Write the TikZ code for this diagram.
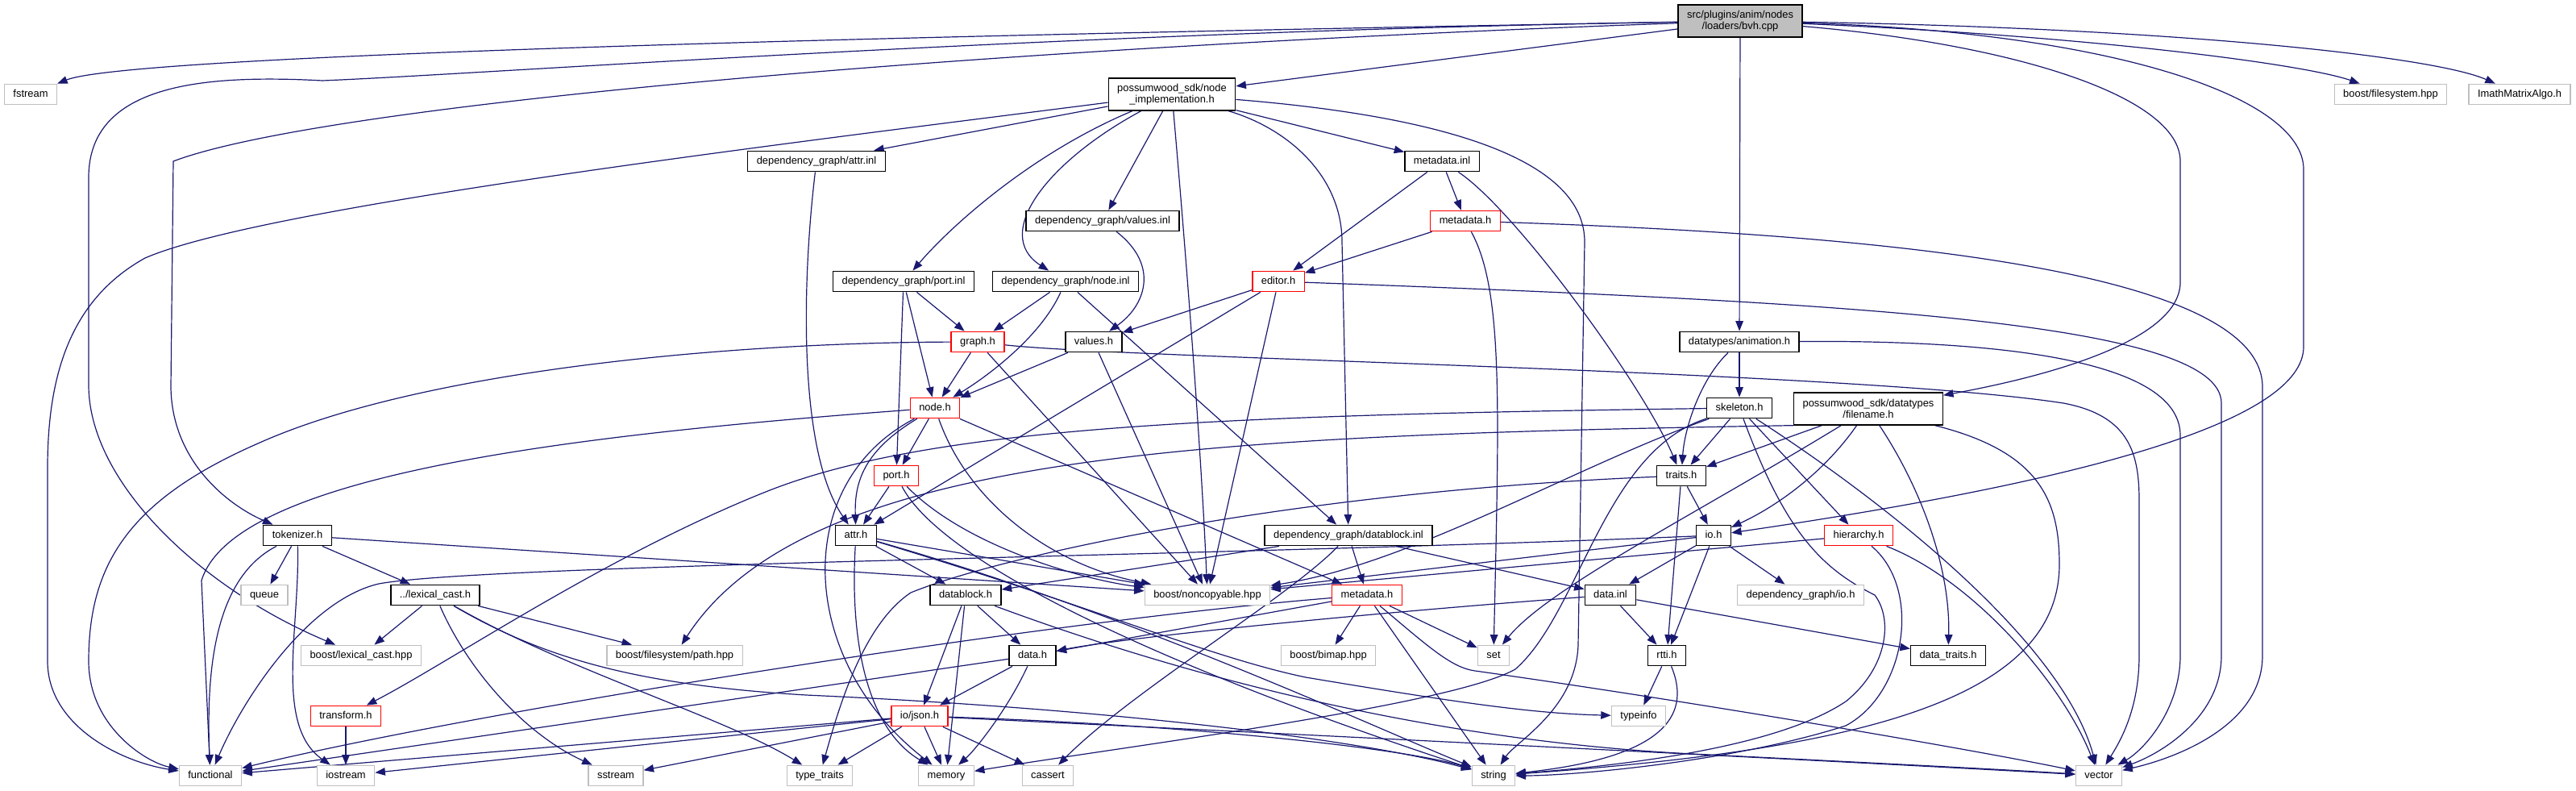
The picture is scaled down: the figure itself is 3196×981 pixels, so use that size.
\documentclass[tikz,border=0pt]{standalone}
\usepackage{fontspec}
\setmainfont{Liberation Sans}
\usetikzlibrary{arrows.meta,backgrounds}
\definecolor{edgeblue}{HTML}{191970}
\definecolor{lightframe}{HTML}{BFBFBF}
\definecolor{rootfill}{HTML}{BFBFBF}
\newcommand\dotfont{\fontsize{12.9}{14.5}\selectfont}

\begin{document}
\begin{tikzpicture}[
    x=1pt, y=-1pt,
    box/.style={
        rectangle,
        draw=black,
        line width=1.3pt,
        fill=white,
        inner xsep=11pt,
        inner ysep=0pt,
        minimum height=25.5pt,
        text height=9.5pt,
        text depth=2.8pt,
        font=\dotfont,
        align=center
    },
    sysbox/.style={box, draw=lightframe},
    redbox/.style={box, draw=red},
    twoline/.style={text height={}, text depth={}, minimum height=40pt},
    edge/.style={draw=edgeblue, line width=1.2pt, -{Triangle[length=12.5pt,width=9.5pt]}}
]
\useasboundingbox (0,0) rectangle (3196,981);

\node[box, twoline, fill=rootfill] (root) at (2159,26) {src/plugins/anim/nodes\\/loaders/bvh.cpp};
\node[sysbox] (fstream) at (38,117) {fstream};
\node[box, twoline] (nodeimpl) at (1454,117) {possumwood\_sdk/node\\\_implementation.h};
\node[sysbox] (boostfs) at (2966,117) {boost/filesystem.hpp};
\node[sysbox] (imath) at (3126,117) {ImathMatrixAlgo.h};
\node[box] (attrinl) at (1013,200) {dependency\_graph/attr.inl};
\node[box] (metainl) at (1789,200) {metadata.inl};
\node[box] (valuesinl) at (1368,274) {dependency\_graph/values.inl};
\node[redbox] (metah) at (1818,274) {metadata.h};
\node[box] (portinl) at (1121,349) {dependency\_graph/port.inl};
\node[box] (nodeinl) at (1322,349) {dependency\_graph/node.inl};
\node[redbox] (editor) at (1586,349) {editor.h};
\node[redbox] (graph) at (1213,424) {graph.h};
\node[box] (values) at (1357,424) {values.h};
\node[box] (anim) at (2158,424) {datatypes/animation.h};
\node[redbox] (nodeh) at (1160,506) {node.h};
\node[box] (skeleton) at (2158,506) {skeleton.h};
\node[box, twoline] (filename) at (2318,507) {possumwood\_sdk/datatypes\\/filename.h};
\node[redbox] (porth) at (1112,590) {port.h};
\node[box] (traits) at (2086,590) {traits.h};
\node[box] (tokenizer) at (369,664) {tokenizer.h};
\node[box] (attrh) at (1062,664) {attr.h};
\node[box] (dbinl) at (1673,664) {dependency\_graph/datablock.inl};
\node[box] (ioh) at (2126,664) {io.h};
\node[redbox] (hier) at (2306,664) {hierarchy.h};
\node[sysbox] (queue) at (328,738) {queue};
\node[box] (lexcast) at (540,738) {../lexical\_cast.h};
\node[box] (datablock) at (1198,738) {datablock.h};
\node[sysbox] (noncopy) at (1498,738) {boost/noncopyable.hpp};
\node[redbox] (metadb) at (1696,738) {metadata.h};
\node[box] (datainl) at (1998,738) {data.inl};
\node[sysbox] (depio) at (2234,738) {dependency\_graph/io.h};
\node[sysbox] (boostlex) at (448,813) {boost/lexical\_cast.hpp};
\node[sysbox] (fspath) at (837,813) {boost/filesystem/path.hpp};
\node[box] (datah) at (1281,813) {data.h};
\node[sysbox] (bimap) at (1648,813) {boost/bimap.hpp};
\node[sysbox] (stdset) at (1853,813) {set};
\node[box] (rtti) at (2068,813) {rtti.h};
\node[box] (datatraits) at (2417,813) {data\_traits.h};
\node[redbox] (transform) at (429,888) {transform.h};
\node[redbox] (json) at (1141,888) {io/json.h};
\node[sysbox] (typeinfo) at (2033,888) {typeinfo};
\node[sysbox] (functional) at (261,962) {functional};
\node[sysbox] (iostream) at (429,962) {iostream};
\node[sysbox] (sstream) at (764,962) {sstream};
\node[sysbox] (typetraits) at (1017,962) {type\_traits};
\node[sysbox] (memory) at (1174,962) {memory};
\node[sysbox] (cassert) at (1300,962) {cassert};
\node[sysbox] (string) at (1853,962) {string};
\node[sysbox] (vector) at (2604,962) {vector};

\begin{pgfonlayer}{background}
% bvh.cpp
\draw[edge] (root) .. controls (900,48) and (150,72) .. (fstream);
\draw[edge] (root) .. controls (1300,40) and (600,92) .. (400,100) .. controls (250,92) and (110,105) .. (110,220) -- (110,480) .. controls (112,600) and (250,730) .. (boostlex);
\draw[edge] (root) .. controls (1200,60) and (400,130) .. (215,200) -- (212,480) .. controls (213,570) and (280,625) .. (tokenizer);
\draw[edge] (root) -- (nodeimpl);
\draw[edge] (root) -- (anim);
\draw[edge] (root) .. controls (2500,55) and (2705,120) .. (2705,200) -- (2705,350) .. controls (2705,420) and (2550,465) .. (filename);
\draw[edge] (root) .. controls (2620,40) and (2858,120) .. (2858,210) -- (2858,430) .. controls (2858,520) and (2600,595) .. (ioh);
\draw[edge] (root) .. controls (2600,45) and (2860,80) .. (boostfs);
\draw[edge] (root) .. controls (2700,35) and (3020,70) .. (imath);
% node_implementation.h
\draw[edge] (nodeimpl) .. controls (1000,175) and (330,255) .. (180,320) .. controls (90,370) and (59,460) .. (59,580) -- (59,820) .. controls (59,900) and (150,945) .. (functional);
\draw[edge] (nodeimpl) -- (attrinl);
\draw[edge] (nodeimpl) .. controls (1280,190) and (1180,280) .. (portinl);
\draw[edge] (nodeimpl) .. controls (1300,200) and (1230,290) .. (nodeinl);
\draw[edge] (nodeimpl) -- (valuesinl);
\draw[edge] (nodeimpl) .. controls (1470,300) and (1490,550) .. (noncopy);
\draw[edge] (nodeimpl) .. controls (1600,160) and (1665,220) .. (1665,300) -- (dbinl);
\draw[edge] (nodeimpl) .. controls (1800,145) and (1966,200) .. (1966,300) -- (1958,800) .. controls (1955,880) and (1880,920) .. (string);
\draw[edge] (nodeimpl) -- (metainl);
% inl files
\draw[edge] (attrinl) .. controls (995,350) and (990,560) .. (attrh);
\draw[edge] (metainl) -- (editor);
\draw[edge] (metainl) -- (metah);
\draw[edge] (metainl) .. controls (1880,260) and (2040,480) .. (traits);
\draw[edge] (valuesinl) .. controls (1440,330) and (1420,380) .. (values);
\draw[edge] (portinl) -- (graph);
\draw[edge] (portinl) -- (nodeh);
\draw[edge] (portinl) -- (porth);
\draw[edge] (nodeinl) -- (graph);
\draw[edge] (nodeinl) .. controls (1290,420) and (1220,470) .. (nodeh);
\draw[edge] (nodeinl) -- (dbinl);
% metadata.h, editor.h
\draw[edge] (metah) -- (editor);
\draw[edge] (metah) .. controls (1865,360) and (1860,500) .. (stdset);
\draw[edge] (metah) .. controls (2300,290) and (2807,330) .. (2807,480) -- (2807,813) .. controls (2807,900) and (2700,940) .. (vector);
\draw[edge] (editor) -- (values);
\draw[edge] (editor) -- (attrh);
\draw[edge] (editor) -- (noncopy);
\draw[edge] (editor) .. controls (2300,375) and (2756,400) .. (2756,500) -- (2756,813) .. controls (2756,890) and (2680,935) .. (vector);
% graph.h, values.h
\draw[edge] (graph) .. controls (900,425) and (520,460) .. (320,550) .. controls (160,620) and (110,700) .. (110,820) .. controls (110,900) and (180,945) .. (functional);
\draw[edge] (graph) -- (nodeh);
\draw[edge] (graph) -- (noncopy);
\draw[edge] (graph) .. controls (1400,445) and (2300,460) .. (2560,500) .. controls (2640,515) and (2654,560) .. (2654,620) -- (2654,813) .. controls (2654,880) and (2630,920) .. (vector);
\draw[edge] (values) -- (nodeh);
\draw[edge] (values) -- (noncopy);
% animation.h, skeleton.h
\draw[edge] (anim) -- (skeleton);
\draw[edge] (anim) .. controls (2110,470) and (2090,530) .. (traits);
\draw[edge] (anim) .. controls (2450,422) and (2705,440) .. (2705,540) -- (2705,813) .. controls (2705,880) and (2660,930) .. (vector);
\draw[edge] (skeleton) .. controls (1500,515) and (1150,530) .. (950,610) .. controls (750,690) and (560,820) .. (transform);
\draw[edge] (skeleton) .. controls (1950,580) and (1750,700) .. (noncopy);
\draw[edge] (skeleton) -- (traits);
\draw[edge] (skeleton) .. controls (1990,560) and (1960,760) .. (1880,830) .. controls (1800,875) and (1400,925) .. (memory);
\draw[edge] (skeleton) .. controls (2215,660) and (2260,705) .. (2326,738) .. controls (2350,770) and (2340,830) .. (2290,870) .. controls (2200,930) and (2000,950) .. (string);
\draw[edge] (skeleton) -- (hier);
\draw[edge] (skeleton) .. controls (2350,630) and (2560,800) .. (vector);
% filename.h
\draw[edge] (filename.south west) .. controls (1500,540) and (1000,560) .. (fspath);
\draw[edge] (filename) -- (traits);
\draw[edge] (filename) .. controls (2100,640) and (1920,730) .. (stdset);
\draw[edge] (filename) .. controls (2260,590) and (2200,630) .. (ioh);
\draw[edge] (filename) .. controls (2380,600) and (2420,700) .. (datatraits);
\draw[edge] (filename) .. controls (2530,560) and (2555,620) .. (2555,700) .. controls (2555,870) and (2300,930) .. (string);
% traits.h, tokenizer.h
\draw[edge] (traits) .. controls (1600,610) and (1240,690) .. (1130,735) .. controls (1070,775) and (1040,880) .. (typetraits);
\draw[edge] (traits) -- (ioh);
\draw[edge] (traits) -- (rtti);
\draw[edge] (tokenizer) .. controls (270,715) and (255,820) .. (functional);
\draw[edge] (tokenizer) -- (queue);
\draw[edge] (tokenizer) .. controls (372,780) and (340,900) .. (iostream);
\draw[edge] (tokenizer) -- (lexcast);
\draw[edge] (tokenizer) -- (noncopy);
% attr.h, port.h, node.h
\draw[edge] (attrh) .. controls (1055,780) and (1070,900) .. (memory);
\draw[edge] (attrh) -- (datablock);
\draw[edge] (attrh) -- (noncopy);
\draw[edge] (attrh) .. controls (1350,750) and (1500,815) .. (1620,840) .. controls (1800,870) and (1900,885) .. (typeinfo);
\draw[edge] (attrh) .. controls (1400,760) and (1700,900) .. (string);
\draw[edge] (porth) -- (attrh);
\draw[edge] (porth) .. controls (1170,700) and (1450,830) .. (string);
\draw[edge] (porth) .. controls (1200,680) and (1350,720) .. (noncopy);
\draw[edge] (nodeh) .. controls (700,540) and (290,590) .. (250,720) -- (functional);
\draw[edge] (nodeh) -- (porth);
\draw[edge] (nodeh) .. controls (1070,560) and (1060,600) .. (attrh);
\draw[edge] (nodeh) .. controls (980,600) and (990,820) .. (memory);
\draw[edge] (nodeh) .. controls (1200,620) and (1300,700) .. (noncopy);
\draw[edge] (nodeh) -- (metadb);
% datablock
\draw[edge] (dbinl) -- (datablock);
\draw[edge] (dbinl) -- (metadb);
\draw[edge] (dbinl) -- (datainl);
\draw[edge] (dbinl) .. controls (1600,740) and (1400,860) .. (cassert);
\draw[edge] (datablock) -- (json);
\draw[edge] (datablock) -- (memory);
\draw[edge] (datablock) -- (datah);
\draw[edge] (datablock) .. controls (1500,850) and (1800,920) .. (2100,935) .. controls (2300,945) and (2500,955) .. (vector);
% metadata.h (lower)
\draw[edge] (metadb) -- (datah);
\draw[edge] (metadb) .. controls (1300,770) and (600,880) .. (functional);
\draw[edge] (metadb) -- (bimap);
\draw[edge] (metadb) -- (stdset);
\draw[edge] (metadb) -- (string);
\draw[edge] (metadb) .. controls (1770,800) and (1800,828) .. (1830,832) .. controls (2100,870) and (2450,930) .. (vector);
% data
\draw[edge] (datainl) .. controls (1700,760) and (1400,790) .. (datah);
\draw[edge] (datainl) -- (rtti);
\draw[edge] (datainl) -- (datatraits);
\draw[edge] (datah) -- (json);
\draw[edge] (datah) .. controls (1250,880) and (1210,930) .. (memory);
\draw[edge] (datah) -- (functional);
% io/json.h
\draw[edge] (json) -- (functional);
\draw[edge] (json) -- (iostream);
\draw[edge] (json) -- (sstream);
\draw[edge] (json) -- (typetraits);
\draw[edge] (json) -- (memory);
\draw[edge] (json) -- (cassert);
\draw[edge] (json) .. controls (1500,900) and (1750,930) .. (string);
\draw[edge] (json) .. controls (1700,915) and (2300,945) .. (vector);
\draw[edge] (transform) -- (iostream);
% ../lexical_cast.h
\draw[edge] (lexcast) -- (boostlex);
\draw[edge] (lexcast) .. controls (580,830) and (650,910) .. (sstream);
\draw[edge] (lexcast) -- (fspath);
\draw[edge] (lexcast) .. controls (700,830) and (900,890) .. (typetraits);
\draw[edge] (lexcast) .. controls (680,820) and (800,850) .. (1000,862) .. controls (1400,880) and (1700,920) .. (string);
% rtti.h, hierarchy.h, io.h
\draw[edge] (rtti) -- (typeinfo);
\draw[edge] (rtti) .. controls (2100,890) and (2060,940) .. (string);
\draw[edge] (hier) -- (noncopy);
\draw[edge] (hier) .. controls (2385,730) and (2365,860) .. (2290,900) .. controls (2150,945) and (1950,962) .. (string);
\draw[edge] (hier) .. controls (2450,720) and (2560,850) .. (vector);
\draw[edge] (ioh) .. controls (1500,690) and (600,700) .. (470,724) .. controls (380,745) and (300,870) .. (functional);
\draw[edge] (ioh) -- (noncopy);
\draw[edge] (ioh) -- (datainl);
\draw[edge] (ioh) -- (rtti);
\draw[edge] (ioh) -- (depio);
\end{pgfonlayer}

\end{tikzpicture}
\end{document}
